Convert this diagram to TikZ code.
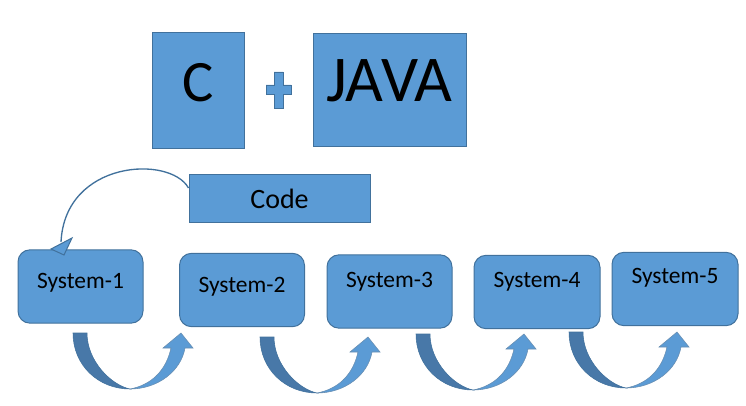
\documentclass[tikz,border=0pt]{standalone}
\usepackage{fontspec}
\setmainfont{Carlito}
\definecolor{boxfill}{HTML}{5B9BD5}
\definecolor{boxline}{HTML}{41719C}
\definecolor{darkarm}{HTML}{4878A8}
\tikzset{
  sqbox/.style={draw=boxline, fill=boxfill, line width=0.75pt, inner sep=0pt, text=black},
  sysbox/.style={sqbox, rounded corners=9pt, minimum width=93.75pt, minimum height=55pt, font=\fontsize{17.6pt}{20pt}\selectfont},
  bl/.style={text height=#1, text depth=0pt},
  bn/.style={text height=0pt, text depth=#1},
  codeline/.style={draw=boxline, line width=1pt},
  uturn/.pic={
    \fill[darkarm, draw=boxline, line width=0.4pt] (0,0) -- (14,0) .. controls (14,28) and (38,52) .. (57,56)
       .. controls (25,56) and (0,32) .. (0,0) -- cycle;
    \fill[boxfill, draw=boxline!80, line width=0.4pt] (57,56) .. controls (85,56) and (108,38) .. (112,15) -- (120,15) -- (108,0)
       -- (90,15) -- (98,15) .. controls (93,38) and (78,52) .. (57,56) -- cycle;
  }
}
\begin{document}
\begin{tikzpicture}[x=0.75pt, y=-0.75pt]
\useasboundingbox (0,0) rectangle (746,406);
% top row
\node[sqbox, minimum width=69pt, minimum height=87pt, bl=16.5pt, font=\fontsize{44pt}{48pt}\selectfont] (c) at (198,91) {C};
\node[sqbox, minimum width=114.75pt, minimum height=84.75pt, bl=17.25pt, font=\fontsize{49pt}{54pt}\selectfont] (java) at (389.5,90.5) {JAVA};
\filldraw[fill=boxfill, draw=boxline, line width=0.5pt]
  (274,72) -- (283,72) -- (283,85) -- (291,85) -- (291,94) -- (283,94) -- (283,108)
  -- (274,108) -- (274,94) -- (266,94) -- (266,85) -- (274,85) -- cycle;
% code
\node[sqbox, minimum width=135.75pt, minimum height=35.25pt, bl=15.75pt, font=\fontsize{21pt}{24pt}\selectfont] (code) at (279.5,198.5) {Code};
% systems
\node[sysbox, bl=2.25pt] (s1) at (80.5,286.5) {System-1};
\node[sysbox, bl=3pt] (s2) at (242,290) {System-2};
\node[sysbox, bn=6.75pt] (s3) at (389.5,291.5) {System-3};
\node[sysbox, bn=7.5pt, minimum width=94.5pt] (s4) at (537,292) {System-4};
\node[sysbox, bn=9pt, minimum width=94.5pt] (s5) at (675,289) {System-5};
% code arrow
\coordinate (hd) at (61,242);
\draw[codeline] ([yshift=7.9pt]code.west) .. controls (170,155) and (65,160) .. (hd);
\filldraw[fill=boxfill, draw=boxline, line width=0.75pt, line join=miter]
  (51,249) -- (72,238) -- (64,255) -- cycle;
% u-turn arrows
\pic at (73,333) {uturn};
\pic at (260,337) {uturn};
\pic at (416,334) {uturn};
\pic at (569,332) {uturn};
\end{tikzpicture}
\end{document}
